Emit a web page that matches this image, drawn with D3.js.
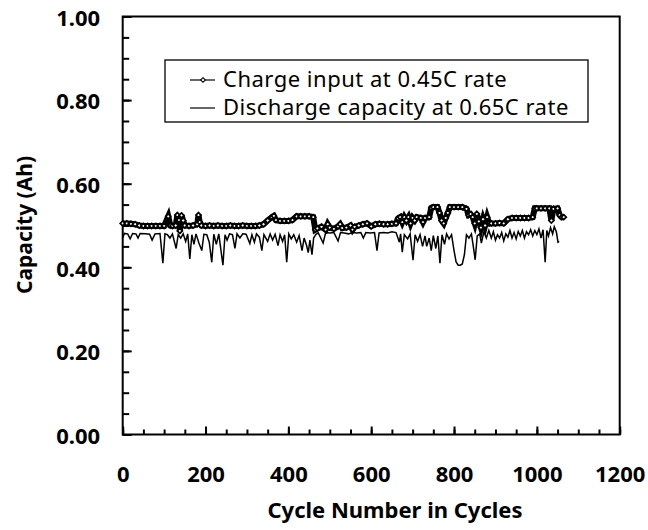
<!DOCTYPE html>
<html>
<head>
<meta charset="utf-8">
<script src="https://cdn.jsdelivr.net/npm/d3@7"></script>
<style>
  body { margin: 0; background: #fff; }
  svg { display: block; }
  text { font-family: "Noto Sans", sans-serif; fill: #000; }
</style>
</head>
<body>
<div id="chart"></div>
<script>
// --- Data ---
const xTickLabels = [0, 200, 400, 600, 800, 1000, 1200];
const yTickLabels = [0.00, 0.20, 0.40, 0.60, 0.80, 1.00];

const legendLabels = ["Charge input at 0.45C rate", "Discharge capacity at 0.65C rate"];

// [cycle, capacity Ah]
const chargeInput = [
  [0,0.505],[10,0.505],[20,0.504],[30,0.503],[40,0.500],[50,0.499],[60,0.499],[70,0.499],
  [80,0.499],[90,0.499],[100,0.499],[110,0.522],[115,0.500],[120,0.499],[128,0.500],[132,0.525],
  [136,0.513],[138,0.487],[142,0.524],[146,0.512],[150,0.500],[160,0.499],[170,0.500],[180,0.503],
  [183,0.525],[186,0.508],[190,0.500],[200,0.499],[210,0.500],[220,0.499],[230,0.500],[240,0.499],
  [250,0.499],[260,0.500],[270,0.499],[280,0.499],[290,0.500],[300,0.499],[310,0.499],[320,0.499],
  [330,0.500],[340,0.503],[350,0.512],[360,0.520],[365,0.523],[370,0.513],[380,0.511],[390,0.511],
  [400,0.511],[410,0.513],[420,0.522],[430,0.522],[440,0.522],[450,0.522],[460,0.520],[465,0.490],
  [470,0.493],[480,0.497],[490,0.490],[495,0.503],[500,0.495],[510,0.492],[520,0.498],[525,0.503],
  [530,0.494],[540,0.495],[550,0.500],[555,0.490],[560,0.497],[570,0.500],[580,0.503],[590,0.505],
  [600,0.498],[610,0.503],[620,0.504],[630,0.503],[640,0.503],[650,0.504],[660,0.505],[665,0.517],
  [670,0.520],[675,0.508],[680,0.520],[685,0.512],[690,0.520],[695,0.505],[700,0.518],[705,0.512],
  [710,0.520],[720,0.518],[725,0.508],[730,0.518],[740,0.520],[745,0.542],[750,0.544],[760,0.544],
  [765,0.530],[770,0.512],[775,0.505],[780,0.518],[785,0.530],[790,0.544],[800,0.544],[810,0.544],
  [820,0.544],[830,0.540],[835,0.525],[840,0.527],[845,0.520],[850,0.505],[855,0.528],[860,0.510],
  [865,0.495],[870,0.515],[875,0.500],[880,0.520],[885,0.505],[890,0.505],[900,0.505],[910,0.506],
  [920,0.505],[930,0.515],[940,0.518],[950,0.518],[960,0.518],[970,0.518],[980,0.518],[990,0.520],
  [995,0.541],[1000,0.541],[1010,0.541],[1020,0.541],[1030,0.541],[1035,0.512],[1040,0.540],
  [1050,0.541],[1055,0.525],[1060,0.520],[1065,0.520]
];

const dischargeCapacity = [
  [0,0.470],[4,0.481],[12,0.480],[18,0.468],[24,0.481],[32,0.480],[37,0.470],[42,0.481],
  [55,0.480],[65,0.479],[71,0.465],[78,0.480],[90,0.481],[97,0.410],[102,0.480],[108,0.478],
  [114,0.470],[120,0.480],[129,0.445],[134,0.478],[140,0.470],[146,0.480],[152,0.462],[157,0.480],
  [162,0.420],[167,0.478],[172,0.455],[177,0.480],[184,0.458],[191,0.440],[196,0.479],[203,0.478],
  [209,0.460],[215,0.412],[220,0.479],[226,0.455],[232,0.480],[242,0.405],[247,0.478],[252,0.465],
  [258,0.480],[265,0.478],[271,0.445],[276,0.480],[283,0.470],[290,0.480],[298,0.479],[307,0.457],
  [312,0.478],[318,0.460],[323,0.480],[330,0.472],[336,0.440],[341,0.478],[350,0.462],[356,0.480],
  [362,0.465],[368,0.479],[375,0.452],[380,0.478],[386,0.462],[391,0.478],[396,0.412],[401,0.480],
  [407,0.468],[413,0.478],[420,0.460],[426,0.476],[433,0.440],[438,0.470],[444,0.452],[448,0.435],
  [452,0.465],[457,0.430],[461,0.470],[466,0.478],[472,0.483],[484,0.458],[490,0.483],[500,0.482],
  [510,0.483],[520,0.463],[526,0.483],[535,0.482],[545,0.480],[555,0.483],[565,0.482],[575,0.483],
  [581,0.470],[587,0.483],[598,0.482],[608,0.483],[614,0.440],[619,0.482],[630,0.483],[640,0.482],
  [650,0.485],[660,0.483],[668,0.460],[671,0.480],[675,0.436],[680,0.478],[688,0.468],[694,0.480],
  [701,0.417],[706,0.478],[712,0.462],[718,0.478],[724,0.450],[730,0.475],[734,0.450],[740,0.470],
  [745,0.440],[750,0.476],[756,0.445],[761,0.475],[766,0.410],[771,0.478],[777,0.455],[782,0.480],
  [788,0.468],[794,0.478],[800,0.440],[805,0.413],[810,0.405],[815,0.405],[820,0.408],[825,0.430],
  [830,0.478],[836,0.470],[842,0.480],[848,0.440],[851,0.418],[856,0.475],[862,0.480],[866,0.458],
  [872,0.485],[878,0.470],[884,0.488],[890,0.470],[895,0.485],[900,0.465],[905,0.478],[910,0.470],
  [915,0.483],[920,0.463],[925,0.480],[930,0.472],[935,0.488],[940,0.470],[945,0.483],[950,0.468],
  [955,0.486],[960,0.475],[965,0.488],[970,0.470],[975,0.485],[980,0.478],[985,0.490],[990,0.475],
  [995,0.488],[1000,0.478],[1005,0.492],[1010,0.470],[1015,0.490],[1020,0.412],[1024,0.488],
  [1028,0.475],[1033,0.495],[1038,0.480],[1042,0.497],[1047,0.485],[1051,0.460],[1054,0.462]
];

// --- Layout ---
const width = 648, height = 530;
const margin = { left: 122.7, right: 28.3, top: 16.5, bottom: 95.5 };
const plotW = width - margin.left - margin.right;
const plotH = height - margin.top - margin.bottom;

const svg = d3.select("#chart").append("svg")
  .attr("width", width)
  .attr("height", height);

svg.append("rect").attr("width", width).attr("height", height).attr("fill", "#fff");

const g = svg.append("g").attr("transform", `translate(${margin.left},${margin.top})`);

const x = d3.scaleLinear().domain([0, 1200]).range([0, plotW]);
const y = d3.scaleLinear().domain([0, 1]).range([plotH, 0]);

// --- Axes (ticks point inward) ---
const xMinor = d3.range(0, 1201, 50);
const yMinor = d3.range(0, 1.0001, 0.05);

g.append("g")
  .attr("transform", `translate(0,${plotH})`)
  .call(d3.axisBottom(x).tickValues(xMinor).tickSize(-5).tickFormat(""))
  .call(a => a.select(".domain").remove());

const xAxis = g.append("g")
  .attr("transform", `translate(0,${plotH})`)
  .call(d3.axisBottom(x).tickValues(xTickLabels).tickSize(-8).tickPadding(32).tickFormat(d3.format("d")))
  .call(a => a.select(".domain").remove());

g.append("g")
  .call(d3.axisLeft(y).tickValues(yMinor).tickSize(-6.5).tickFormat(""))
  .call(a => a.select(".domain").remove());

const yAxis = g.append("g")
  .call(d3.axisLeft(y).tickValues(yTickLabels).tickSize(-9).tickPadding(22.5).tickFormat(d3.format(".2f")))
  .call(a => a.select(".domain").remove());

g.selectAll(".tick line").attr("stroke", "#000").attr("stroke-width", 2);

xAxis.selectAll("text")
  .style("font-size", "22px").style("font-weight", "bold");
yAxis.selectAll("text")
  .attr("dy", "0.4em")
  .style("font-size", "22px").style("font-weight", "bold");

// Frame
g.append("rect")
  .attr("width", plotW).attr("height", plotH)
  .attr("fill", "none").attr("stroke", "#000").attr("stroke-width", 2);

// --- Series ---
const line = d3.line().x(d => x(d[0])).y(d => y(d[1]));

g.append("path")
  .datum(dischargeCapacity)
  .attr("d", line)
  .attr("fill", "none")
  .attr("stroke", "#000")
  .attr("stroke-width", 1.5);

g.append("path")
  .datum(chargeInput)
  .attr("d", line)
  .attr("fill", "none")
  .attr("stroke", "#000")
  .attr("stroke-width", 6);

const diamond = d3.symbol().type(d3.symbolDiamond2).size(16);

g.append("g").selectAll("path")
  .data(chargeInput)
  .join("path")
  .attr("d", diamond)
  .attr("transform", d => `translate(${x(d[0])},${y(d[1])})`)
  .attr("fill", "#fff")
  .attr("stroke", "#000")
  .attr("stroke-width", 1.7);

// --- Legend ---
const legend = svg.append("g");
legend.append("rect")
  .attr("x", 165).attr("y", 60).attr("width", 423).attr("height", 62)
  .attr("fill", "#fff").attr("stroke", "#000").attr("stroke-width", 1.3);

legendLabels.forEach((label, i) => {
  const ly = 80 + i * 28;
  legend.append("line")
    .attr("x1", 190).attr("x2", 215).attr("y1", ly).attr("y2", ly)
    .attr("stroke", "#000").attr("stroke-width", 1.2);
  if (i === 0) {
    legend.append("path")
      .attr("d", d3.symbol().type(d3.symbolDiamond2).size(14))
      .attr("transform", `translate(203,${ly})`)
      .attr("fill", "#fff").attr("stroke", "#000").attr("stroke-width", 1.1);
  }
  legend.append("text")
    .attr("x", 223).attr("y", ly + 7)
    .style("font-size", "22px")
    .style("letter-spacing", "0.5px")
    .text(label);
});

// --- Axis titles ---
svg.append("text")
  .attr("x", 395).attr("y", 518)
  .attr("text-anchor", "middle")
  .style("font-size", "22px").style("font-weight", "bold")
  .text("Cycle Number in Cycles");

svg.append("text")
  .attr("transform", "translate(32,225) rotate(-90)")
  .attr("text-anchor", "middle")
  .style("font-size", "21px").style("font-weight", "bold")
  .text("Capacity (Ah)");
</script>
</body>
</html>
